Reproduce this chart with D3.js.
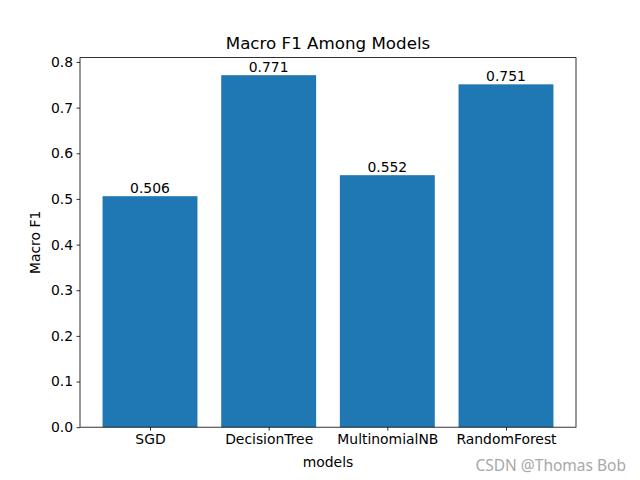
<!DOCTYPE html>
<html>
<head>
<meta charset="utf-8">
<script src="https://cdn.jsdelivr.net/npm/d3@7"></script>
<style>
html,body{margin:0;padding:0;background:#fff;}
svg{display:block;font-family:"DejaVu Sans",sans-serif;}
</style>
</head>
<body>
<svg id="chart" width="640" height="480"></svg>
<script>
const categories = ["SGD", "DecisionTree", "MultinomialNB", "RandomForest"];
const values = [0.506, 0.771, 0.552, 0.751];
const yTicks = [0.0, 0.1, 0.2, 0.3, 0.4, 0.5, 0.6, 0.7, 0.8];
const title = "Macro F1 Among Models";
const xLabel = "models";
const yLabel = "Macro F1";
const watermark = "CSDN @Thomas Bob";

const svg = d3.select("#chart");
const L = 80, R = 576, T = 57.6, B = 427.2;
const fs = 13.9;

const yMax = d3.max(values) * 1.05;
const y = d3.scaleLinear().domain([0, yMax]).range([B, T]);
const x = d3.scaleLinear().domain([-0.59, categories.length - 1 + 0.59]).range([L, R]);
const bw = 0.8;

svg.append("rect").attr("x", 0).attr("y", 0).attr("width", 640).attr("height", 480).attr("fill", "#fff");

svg.selectAll("rect.bar").data(values).enter().append("rect")
  .attr("class", "bar")
  .attr("x", (d, i) => x(i - bw / 2))
  .attr("width", (d, i) => x(i + bw / 2) - x(i - bw / 2))
  .attr("y", d => y(d))
  .attr("height", d => B - y(d))
  .attr("fill", "#1f77b4");

svg.selectAll("text.val").data(values).enter().append("text")
  .attr("class", "val")
  .attr("x", (d, i) => x(i))
  .attr("y", d => y(d) - 3)
  .attr("text-anchor", "middle")
  .attr("font-size", fs)
  .attr("fill", "#000")
  .text(d => d3.format(".3f")(d));

// frame
svg.append("rect").attr("x", L).attr("y", T).attr("width", R - L).attr("height", B - T)
  .attr("fill", "none").attr("stroke", "#000").attr("stroke-width", 0.8);

// y axis
const yAxis = d3.axisLeft(y).tickValues(yTicks).tickFormat(d3.format(".1f")).tickSize(3.5).tickPadding(3.5);
const gy = svg.append("g").attr("transform", `translate(${L},0)`).call(yAxis);
gy.select(".domain").remove();
gy.selectAll("line").attr("stroke", "#000").attr("stroke-width", 0.8);
gy.selectAll("text").attr("font-size", fs).attr("font-family", "DejaVu Sans").attr("fill", "#000");

// x axis
const xAxis = d3.axisBottom(x).tickValues(d3.range(categories.length)).tickFormat(i => categories[i]).tickSize(3.5).tickPadding(3.5);
const gx = svg.append("g").attr("transform", `translate(0,${B})`).call(xAxis);
gx.select(".domain").remove();
gx.selectAll("line").attr("stroke", "#000").attr("stroke-width", 0.8);
gx.selectAll("text").attr("font-size", fs).attr("font-family", "DejaVu Sans").attr("fill", "#000");

svg.append("text").attr("x", (L + R) / 2).attr("y", 467).attr("text-anchor", "middle")
  .attr("font-size", fs).attr("fill", "#000").text(xLabel);

svg.append("text").attr("transform", `translate(40,${(T + B) / 2}) rotate(-90)`).attr("text-anchor", "middle")
  .attr("font-size", fs).attr("fill", "#000").text(yLabel);

svg.append("text").attr("x", (L + R) / 2).attr("y", 49).attr("text-anchor", "middle")
  .attr("font-size", 16.7).attr("fill", "#000").text(title);

svg.append("text").attr("x", 626).attr("y", 470.5).attr("text-anchor", "end")
  .attr("font-size", 15.5).attr("font-family", "Noto Sans, sans-serif").attr("fill", "#a8a8a8").text(watermark);
</script>
</body>
</html>
